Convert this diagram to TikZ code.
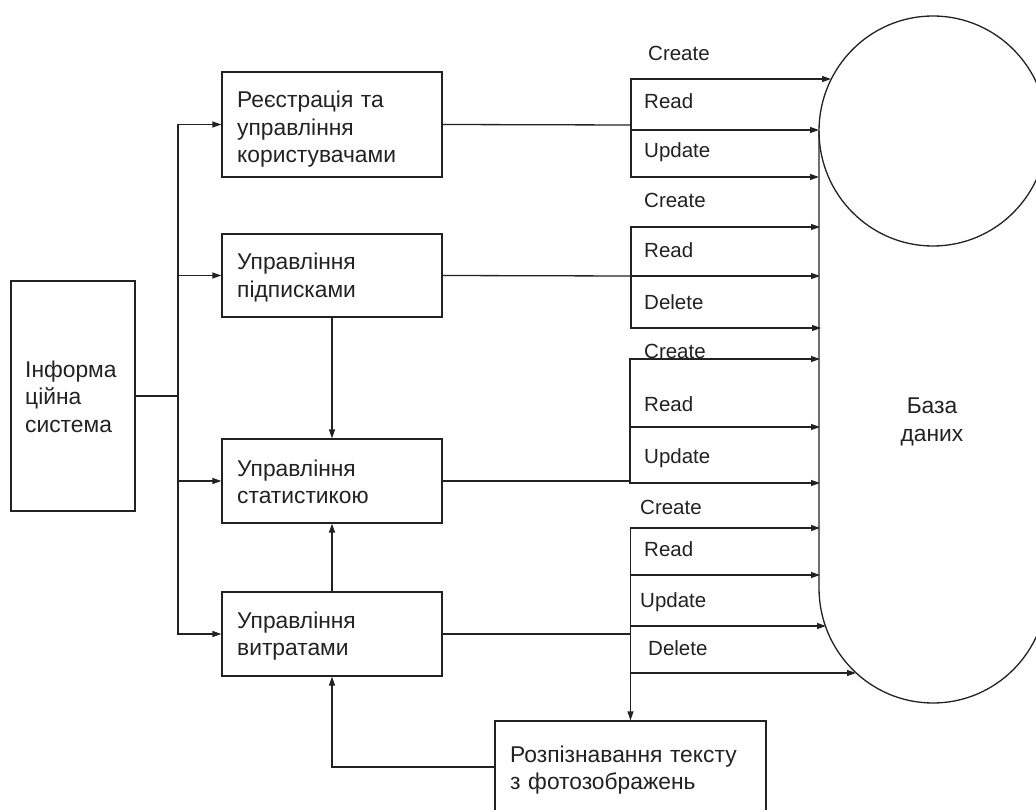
\documentclass[tikz,border=0pt]{standalone}
\usepackage{fontspec}
\setmainfont{Liberation Sans}
\usetikzlibrary{arrows.meta}
\definecolor{ink}{HTML}{222222}
\begin{document}
\begin{tikzpicture}[x=1pt,y=1pt,
  every node/.style={font=\fontsize{20.5}{27.5}\selectfont, text=ink},
  block/.style={draw=ink, line width=1.3pt, minimum width=220, minimum height=84, inner sep=0},
  txt/.style={anchor=base west, align=left, text width=280, inner sep=0,
    font=\fontsize{22.8}{27.5}\selectfont},
  lbl/.style={anchor=base west, inner sep=0},
  link/.style={draw=ink, line width=1.3pt},
  arr/.style={link, -{Triangle[length=9pt,width=6pt]}}]
\useasboundingbox (0,0) rectangle (1036,-810);
\clip (0,0) rectangle (1036,-810);

% process blocks
\node[block, minimum width=124, minimum height=230] (info) at (73,-396) {};
\node[block, minimum height=105] (reg)  at (332,-124.5) {};
\node[block, minimum height=83]  (sub)  at (332,-275.5) {};
\node[block]                     (stat) at (332,-481) {};
\node[block]                     (exp)  at (332,-634) {};
\node[block, minimum width=271, minimum height=92] (ocr) at (630.5,-767) {};

% block captions
\node[txt] (tinfo) at (25,-377)  {Інформа\\ційна\\система};
\node[txt] (treg)  at (237,-108) {Реєстрація та\\управління\\користувачами};
\node[txt] (tsub)  at (237,-270) {Управління\\підписками};
\node[txt] (tstat) at (237,-476) {Управління\\статистикою};
\node[txt] (texp)  at (237,-628) {Управління\\витратами};
\node[txt] (tocr)  at (510,-762) {Розпізнавання тексту\\з фотозображень};

% database cylinder
\draw[ink, line width=1.3pt] (933,-131) ellipse [x radius=114, y radius=115];
\draw[ink, line width=1.3pt] (1047,-131) -- (1047,-588)
  arc[start angle=0, end angle=-180, x radius=114, y radius=115] -- (819,-131);
\node[anchor=base, align=center, text width=140, inner sep=0,
  font=\fontsize{22.8}{28}\selectfont] (db) at (932,-413) {База\\даних};

% system to the four managers
\coordinate (bus) at (178,-396);
\draw[link] (info.east) -- (bus);
\draw[arr] (bus) |- (reg.west);
\draw[arr] (bus) |- (sub.west);
\draw[arr] (bus) |- (stat.west);
\draw[arr] (bus) |- (exp.west);

% links between managers
\draw[arr] (sub.south) -- (stat.north);
\draw[arr] (exp.north) -- (stat.south);
\draw[arr] (ocr.west) -| (exp.south);

% branch points and database entry points
\coordinate (j1) at (631,-125);
\coordinate (j2) at (631,-276);
\coordinate (j3) at (630,-481);
\coordinate (j4) at (ocr.north |- exp.east);
\coordinate (e1c) at (831,-79);  \coordinate (e1r) at (819,-130); \coordinate (e1u) at (819,-177);
\coordinate (e2c) at (820,-227); \coordinate (e2r) at (820,-276); \coordinate (e2d) at (821,-328);
\coordinate (e3c) at (820,-359); \coordinate (e3r) at (820,-427); \coordinate (e3u) at (820,-483);
\coordinate (e4c) at (820,-528); \coordinate (e4r) at (820,-575); \coordinate (e4u) at (826,-626);
\coordinate (e4d) at (856,-673);

% registration CRUD
\draw[link] (reg.east) -- (j1);
\draw[arr] (j1) |- (e1c);
\draw[arr] (j1) |- (e1r);
\draw[arr] (j1) |- (e1u);
\node[lbl] (l1c) at (648,-60.5)  {Create};
\node[lbl] (l1r) at (644,-108.3) {Read};
\node[lbl] (l1u) at (644,-157.3) {Update};

% subscriptions CRUD
\draw[link] (sub.east) -- (j2);
\draw[arr] (j2) |- (e2c);
\draw[arr] (j2) -- (e2r);
\draw[arr] (j2) |- (e2d);
\node[lbl] (l2c) at (644,-207.7) {Create};
\node[lbl] (l2r) at (644,-257.7) {Read};
\node[lbl] (l2d) at (644,-309)   {Delete};

% statistics CRUD
\draw[link] (stat.east) -- (j3);
\draw[arr] (j3) |- (e3c);
\draw[arr] (j3) |- (e3r);
\draw[arr] (j3) |- (e3u);
\node[lbl] (l3c) at (644,-358.3) {Create};
\node[lbl] (l3r) at (644,-411.7) {Read};
\node[lbl] (l3u) at (644,-463.3) {Update};

% expenses CRUD and recognition
\draw[link] (exp.east) -- (j4);
\draw[arr] (j4) |- (e4c);
\draw[arr] (j4) |- (e4r);
\draw[arr] (j4) |- (e4u);
\draw[arr] (j4) |- (e4d);
\draw[arr] (j4) -- (ocr.north);
\node[lbl] (l4c) at (640,-514.3) {Create};
\node[lbl] (l4r) at (644,-556.7) {Read};
\node[lbl] (l4u) at (640,-607.7) {Update};
\node[lbl] (l4d) at (648,-655)   {Delete};
\end{tikzpicture}
\end{document}
